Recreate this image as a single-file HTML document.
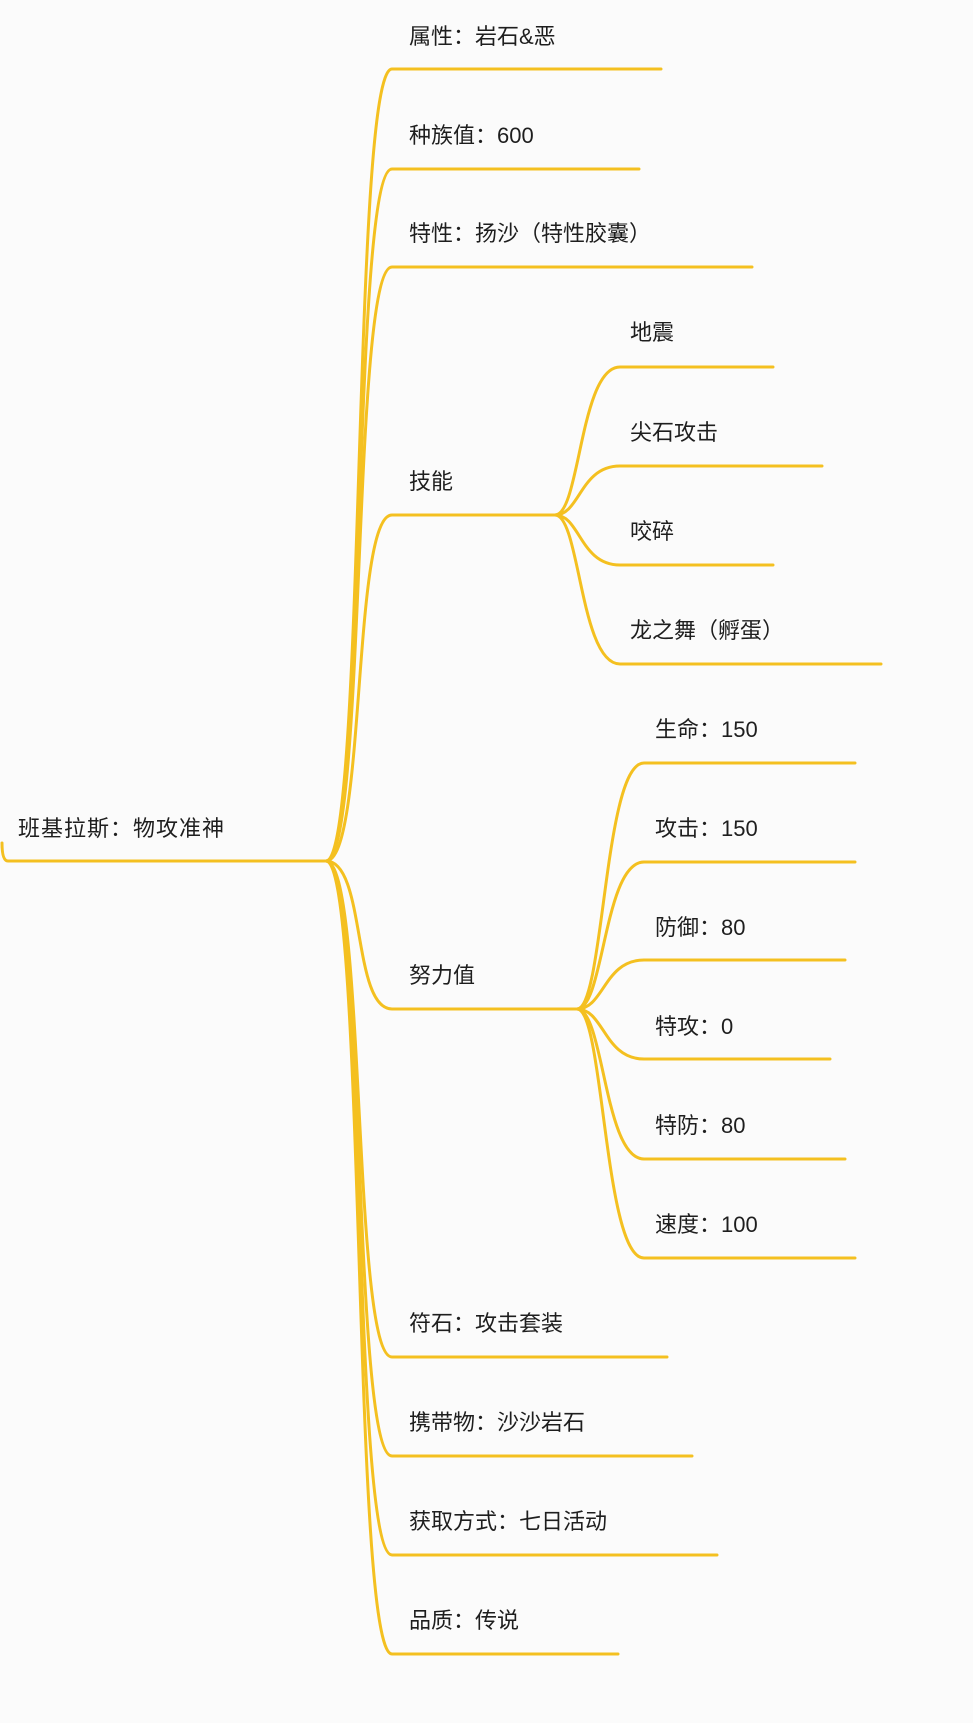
<!DOCTYPE html>
<html><head><meta charset="utf-8"><style>
html,body{margin:0;padding:0;background:#fbfbfb;}
svg{display:block}
text{font-family:"Liberation Sans","Noto Sans CJK SC",sans-serif;font-size:22px;fill:#1e1e1e;}
</style></head><body>
<svg width="973" height="1723" viewBox="0 0 973 1723" xmlns="http://www.w3.org/2000/svg">
<g fill="none" stroke="#f4c020" stroke-width="3" stroke-linecap="round">
<!-- root -->
<path d="M2,843 Q2,861 8,861 L326,861"/>
<!-- main branches -->
<path d="M326,861 C366,861 352,69 392,69 L661,69"/>
<path d="M326,861 C366,861 352,169 392,169 L639,169"/>
<path d="M326,861 C366,861 352,267 392,267 L752,267"/>
<path d="M326,861 C366,861 352,515 392,515 L555,515"/>
<path d="M326,861 C366,861 352,1009 392,1009 L577,1009"/>
<path d="M326,861 C366,861 352,1357 392,1357 L667,1357"/>
<path d="M326,861 C366,861 352,1456 392,1456 L692,1456"/>
<path d="M326,861 C366,861 352,1555 392,1555 L717,1555"/>
<path d="M326,861 C366,861 352,1654 392,1654 L618,1654"/>
<!-- skills -->
<path d="M555,515 C580,515 580,367 620,367 L773,367"/>
<path d="M555,515 C580,515 580,466 620,466 L822,466"/>
<path d="M555,515 C580,515 580,565 620,565 L773,565"/>
<path d="M555,515 C580,515 580,664 620,664 L881,664"/>
<!-- EV -->
<path d="M577,1009 C604,1009 604,763 644,763 L855,763"/>
<path d="M577,1009 C604,1009 604,862 644,862 L855,862"/>
<path d="M577,1009 C604,1009 604,960 644,960 L845,960"/>
<path d="M577,1009 C604,1009 604,1059 644,1059 L830,1059"/>
<path d="M577,1009 C604,1009 604,1159 644,1159 L845,1159"/>
<path d="M577,1009 C604,1009 604,1258 644,1258 L855,1258"/>
</g>
<text x="18" y="836" letter-spacing="1">班基拉斯：物攻准神</text>
<text x="409" y="44">属性：岩石&amp;恶</text>
<text x="409" y="143">种族值：600</text>
<text x="409" y="241">特性：扬沙（特性胶囊）</text>
<text x="409" y="489">技能</text>
<text x="409" y="983">努力值</text>
<text x="409" y="1331">符石：攻击套装</text>
<text x="409" y="1430">携带物：沙沙岩石</text>
<text x="409" y="1529">获取方式：七日活动</text>
<text x="409" y="1628">品质：传说</text>
<text x="630" y="340">地震</text>
<text x="630" y="440">尖石攻击</text>
<text x="630" y="539">咬碎</text>
<text x="630" y="638">龙之舞（孵蛋）</text>
<text x="655" y="737">生命：150</text>
<text x="655" y="836">攻击：150</text>
<text x="655" y="935">防御：80</text>
<text x="655" y="1034">特攻：0</text>
<text x="655" y="1133">特防：80</text>
<text x="655" y="1232">速度：100</text>
</svg>
</body></html>
